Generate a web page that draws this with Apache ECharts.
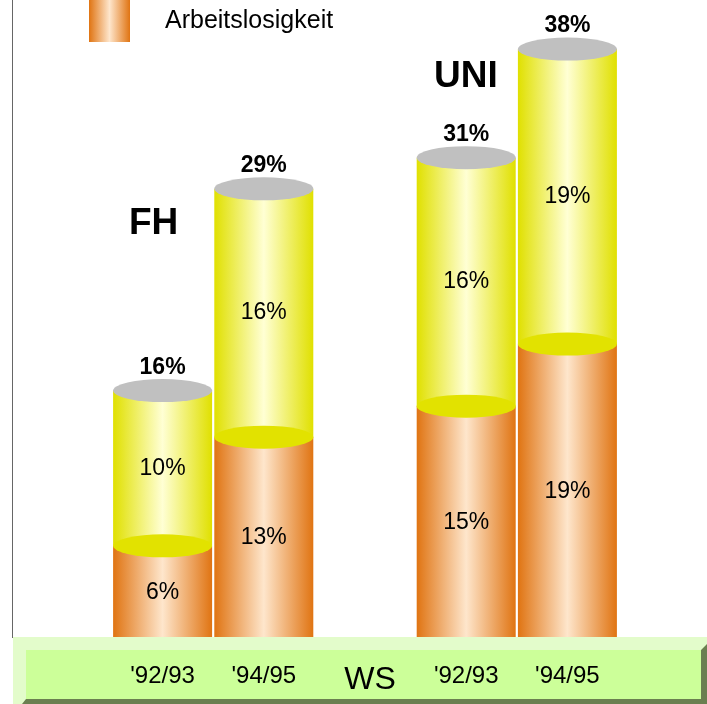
<!DOCTYPE html>
<html>
<head>
  <meta charset="UTF-8">
  <title>Arbeitslosigkeit FH / UNI</title>
  <style>
    html, body { margin: 0; padding: 0; background: #fff; }
    #chart { width: 707px; height: 704px; }
  </style>
  <script src="https://cdn.jsdelivr.net/npm/echarts@6/dist/echarts.min.js"></script>
</head>
<body>
<div id="chart"></div>
<script>
  // Daten
  var categories = ["'92/93", "'94/95", 'WS', "'92/93", "'94/95"];
  var arbeitslos = [6, 13, null, 15, 19];   // orange
  var rest = [10, 16, null, 16, 19];        // gelb
  var gesamt = arbeitslos.map(function (v, i) {
    return v == null ? null : v + rest[i];
  });

  var orange = new echarts.graphic.LinearGradient(0, 0, 1, 0, [
    {offset: 0, color: '#e07412'},
    {offset: 0.5, color: '#fee6cc'},
    {offset: 1, color: '#e07412'}
  ]);
  var gelb = new echarts.graphic.LinearGradient(0, 0, 1, 0, [
    {offset: 0, color: '#e0e000'},
    {offset: 0.5, color: '#ffffd4'},
    {offset: 1, color: '#e0e000'}
  ]);
  var font = '"Liberation Sans", Arial, sans-serif';

  var myChart = echarts.init(document.getElementById('chart'));
  var option = {
    animation: false,
    textStyle: {fontFamily: font},
    legend: {
      data: ['Arbeitslosigkeit'],
      left: 89,
      top: 0,
      padding: 0,
      itemWidth: 41,
      itemHeight: 42,
      icon: 'rect',
      selectedMode: false,
      textStyle: {fontSize: 25, color: '#000', padding: [4, 0, 0, 30], fontFamily: font}
    },
    grid: {left: 112, right: 89, top: 18, bottom: 65},
    xAxis: {
      type: 'category',
      z: 200,
      data: categories.map(function (c) {
        return c === 'WS' ? {value: c, textStyle: {fontSize: 32, padding: [0, 0, 0, 10]}} : c;
      }),
      axisLine: {show: false},
      axisTick: {show: false},
      axisLabel: {margin: 25, fontSize: 24, color: '#000', fontFamily: font, interval: 0}
    },
    yAxis: {type: 'value', min: 0, max: 40, show: false},
    graphic: [
      {type: 'line', shape: {x1: 12.5, y1: 0, x2: 12.5, y2: 638}, style: {stroke: '#666', lineWidth: 1}, z: 100},
      {type: 'rect', shape: {x: 13, y: 637, width: 694, height: 67}, style: {fill: '#e3fccb'}, z: 100},
      {type: 'rect', shape: {x: 26, y: 650, width: 675, height: 49}, style: {fill: '#ccff99'}, z: 101},
      {type: 'polygon', shape: {points: [[26, 699], [701, 699], [701, 650], [707, 644], [707, 704], [22, 704]]},
        style: {fill: '#6b7f50'}, z: 101},
      {type: 'text', left: 129, top: 205, style: {text: 'FH', fill: '#000', font: 'bold 37px ' + font}, z: 102},
      {type: 'text', left: 434, top: 58, style: {text: 'UNI', fill: '#000', font: 'bold 37px ' + font}, z: 102}
    ],
    series: [
      {
        name: 'Arbeitslosigkeit',
        type: 'bar',
        stack: 'a',
        barWidth: 99,
        z: 2,
        itemStyle: {color: orange},
        label: {show: true, position: 'inside', fontSize: 23, color: '#000', formatter: '{c}%'},
        data: arbeitslos
      },
      {
        name: 'Rest',
        type: 'bar',
        stack: 'a',
        barWidth: 99,
        z: 2,
        itemStyle: {color: gelb},
        label: {show: true, position: 'inside', fontSize: 23, color: '#000', formatter: '{c}%'},
        data: rest
      },
      {
        name: 'Trenner',
        type: 'pictorialBar',
        symbol: 'circle',
        symbolSize: [99, 23],
        symbolPosition: 'end',
        symbolOffset: [0, '-50%'],
        z: 3,
        itemStyle: {color: '#e2e200'},
        data: arbeitslos
      },
      {
        name: 'Gesamt',
        type: 'pictorialBar',
        symbol: 'circle',
        symbolSize: [99, 23],
        symbolPosition: 'end',
        symbolOffset: [0, '-50%'],
        z: 3,
        itemStyle: {color: '#c0c0c0'},
        label: {show: true, position: 'top', distance: 0, fontSize: 23, fontWeight: 'bold', color: '#000', formatter: '{c}%'},
        data: gesamt
      }
    ]
  };
  myChart.setOption(option);
</script>
</body>
</html>
